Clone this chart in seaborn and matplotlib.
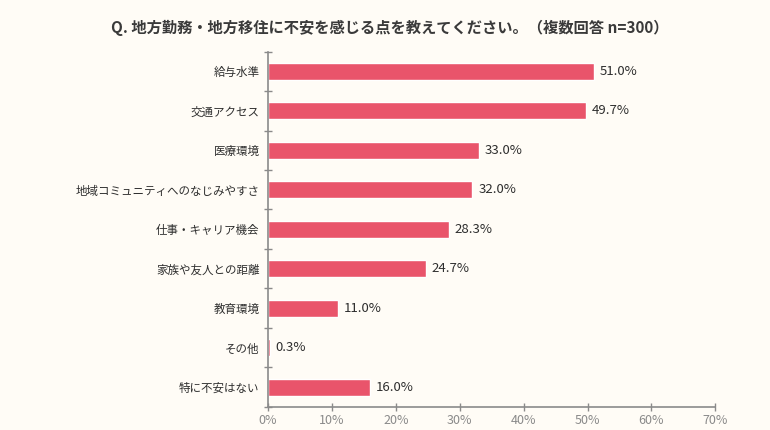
import matplotlib
matplotlib.use("Agg")
import matplotlib.pyplot as plt
import seaborn as sns
import pandas as pd

# data
categories = ["給与水準", "交通アクセス", "医療環境", "地域コミュニティへのなじみやすさ",
              "仕事・キャリア機会", "家族や友人との距離", "教育環境", "その他", "特に不安はない"]
values = [51.0, 49.7, 33.0, 32.0, 28.3, 24.7, 11.0, 0.3, 16.0]
x_ticks = [0, 10, 20, 30, 40, 50, 60, 70]
title = "Q. 地方勤務・地方移住に不安を感じる点を教えてください。（複数回答 n=300）"

sns.set_theme(style="white")
plt.rcParams["font.family"] = ["Noto Sans CJK JP", "DejaVu Sans"]

bg = "#fffcf6"
bar_color = "#e9546b"
axis_color = "#8a8a8a"

df = pd.DataFrame({"item": categories, "pct": values})

fig = plt.figure(figsize=(7.7, 4.3), dpi=100, facecolor=bg)
ax = fig.add_axes([0.348, 0.054, 0.581, 0.826])
ax.set_facecolor(bg)

sns.barplot(data=df, y="item", x="pct", color=bar_color, width=0.43,
            saturation=1, ax=ax, orient="h")

for i, v in enumerate(values):
    ax.text(v + 0.9, i, f"{v:.1f}%", va="center", ha="left",
            fontsize=9.5, color="#2e2e2e")

ax.set_xlim(0, 70)
ax.set_ylim(len(categories) - 0.5, -0.5)
ax.set_xticks(x_ticks)
ax.set_xticklabels([f"{t}%" for t in x_ticks], color=axis_color, fontsize=9)
ax.set_yticks(range(len(categories)))
ax.set_yticklabels(categories, fontsize=8.3, color="#2e2e2e")
ax.set_xlabel("")
ax.set_ylabel("")

# tick marks sit on category boundaries on the y axis
ax.set_yticks([i - 0.5 for i in range(len(categories) + 1)], minor=True)
ax.tick_params(axis="y", which="major", length=0, pad=6)
ax.tick_params(axis="y", which="minor", length=6, width=1, color=axis_color,
               direction="inout", left=True)
ax.tick_params(axis="x", which="major", length=6, width=1, color=axis_color,
               direction="inout", bottom=True, pad=2)

for side in ["top", "right"]:
    ax.spines[side].set_visible(False)
for side in ["left", "bottom"]:
    ax.spines[side].set_color(axis_color)
    ax.spines[side].set_linewidth(1.2)

fig.text(0.506, 0.935, title, ha="center", va="center", fontsize=11,
         fontweight="bold", color="#3a3a3a")

fig.savefig("out.png", dpi=100, facecolor=bg)
